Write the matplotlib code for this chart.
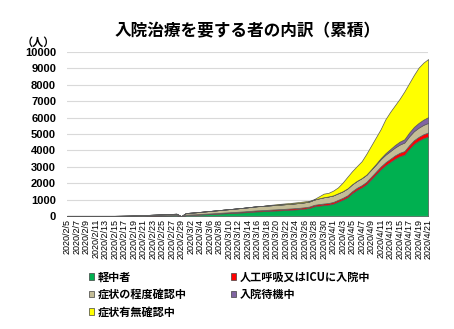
import matplotlib
matplotlib.use("Agg")
import matplotlib.pyplot as plt
import pandas as pd
from matplotlib.patches import Patch

plt.rcParams['font.family'] = ['Liberation Sans', 'Noto Sans CJK JP', 'DejaVu Sans']

# 2020/2/5 - 2020/4/21 の日別データ（累積）
dates = pd.date_range("2020-02-05", "2020-04-21", freq="D")
date_labels = [f"{d.year}/{d.month}/{d.day}" for d in dates]

# 軽中者
mild = [5, 5, 5, 5, 5, 5, 5, 5, 5, 5,
        5, 8, 10, 12, 15, 18, 20, 25, 30, 35, 40, 45, 50, 55,
        0,
        60, 70, 80, 95, 110, 125, 140, 155, 170, 185,
        200, 215, 230, 250, 270, 290, 300, 315, 330, 345,
        360, 375, 390, 410, 430, 460, 500, 600, 640, 670,
        700,
        760, 880, 1000, 1150, 1400, 1600, 1750, 1950, 2250, 2550,
        2850, 3100, 3300, 3500, 3650, 3750, 4100, 4400, 4600, 4750, 4850]
# 人工呼吸又はICUに入院中
icu = [5, 5, 5, 5, 5, 5, 5, 5, 5, 5,
       5, 5, 6, 8, 10, 12, 14, 16, 18, 20, 22, 24, 26, 28,
       0,
       30, 32, 34, 36, 38, 40, 42, 45, 48, 50,
       52, 55, 58, 60, 62, 64, 66, 68, 70, 72,
       74, 76, 78, 80, 82, 84, 86, 90, 95, 100,
       100,
       105, 110, 115, 120, 125, 130, 135, 140, 150, 160,
       170, 180, 190, 200, 210, 215, 220, 225, 230, 240, 250]
# 症状の程度確認中
checking = [10, 10, 10, 10, 10, 10, 10, 10, 10, 10,
            10, 12, 15, 18, 20, 25, 30, 35, 40, 45, 50, 55, 60, 65,
            0,
            100, 110, 120, 130, 140, 150, 160, 170, 180, 190,
            200, 210, 220, 230, 240, 250, 255, 260, 265, 270,
            275, 280, 285, 290, 295, 300, 310, 320, 350, 380,
            400,
            400, 400, 400, 420, 420, 420, 430, 430, 430, 430,
            450, 460, 470, 480, 500, 520, 540, 550, 560, 570, 580]
# 入院待機中
waiting = [0] * 24 + [0] + [0] * 30 + [0] + \
          [0, 0, 0, 0, 0, 0, 0, 10, 20, 40,
           60, 90, 120, 150, 180, 200, 230, 260, 290, 320, 350]
# 症状有無確認中
unknown = [0] * 24 + [0] + \
          [0, 0, 0, 0, 0, 0, 0, 0, 0, 0,
           0, 0, 0, 0, 0, 0, 0, 20, 30, 40,
           45, 50, 50, 55, 60, 60, 40, 30, 120, 220,
           220,
           290, 360, 530, 710, 800, 900, 1030, 1270, 1450, 1620,
           1770, 2070, 2270, 2420, 2610, 2915, 3010, 3165, 3370, 3470, 3540]

labels = ["軽中者", "人工呼吸又はICUに入院中", "症状の程度確認中", "入院待機中", "症状有無確認中"]
colors = ["#00B050", "#FF0000", "#C4BD97", "#8064A2", "#FFFF00"]

fig = plt.figure(figsize=(4.54, 3.29), dpi=100)
ax = fig.add_axes([0.148, 0.343, 0.795, 0.499])

x = list(range(len(dates)))
ax.stackplot(x, mild, icu, checking, waiting, unknown,
             colors=colors, edgecolor="#595959", linewidth=0.5)

ax.set_xlim(0, len(dates) - 1)
ax.set_ylim(0, 10000)
ax.set_yticks(range(0, 10001, 1000))
ax.set_yticklabels([str(v) for v in range(0, 10001, 1000)],
                   fontsize=8, fontweight="bold")
ax.set_xticks(x[::2])
ax.set_xticklabels(date_labels[::2], rotation=90, fontsize=6.5)
ax.tick_params(axis="both", length=0, pad=2)
ax.tick_params(axis="y", pad=8)
ax.grid(axis="y", color="#D9D9D9", linewidth=0.8)
ax.set_axisbelow(True)
for s in ax.spines.values():
    s.set_visible(False)
ax.axhline(0, color="#D9D9D9", linewidth=0.8)

fig.text(0.545, 0.905, "入院治療を要する者の内訳（累積）", ha="center", va="center",
         fontsize=12, fontweight="bold", family=["Noto Sans CJK JP"])
fig.text(0.085, 0.872, "（人）", ha="center", va="center", fontsize=8,
         fontweight="bold", family=["Noto Sans CJK JP"])

handles = [Patch(facecolor=c, edgecolor="#404040", linewidth=0.5) for c in colors]
order = [0, 2, 4, 1, 3]
fig.legend([handles[i] for i in order], [labels[i] for i in order],
           loc="upper left", bbox_to_anchor=(0.195, 0.178),
           ncol=2, frameon=False, handlelength=0.5, handleheight=0.5,
           handletextpad=0.3, columnspacing=4.0, labelspacing=0.4,
           borderpad=0, borderaxespad=0,
           prop={"family": ["Noto Sans CJK JP"], "size": 8, "weight": "bold"})

fig.savefig("out.png", dpi=100)
